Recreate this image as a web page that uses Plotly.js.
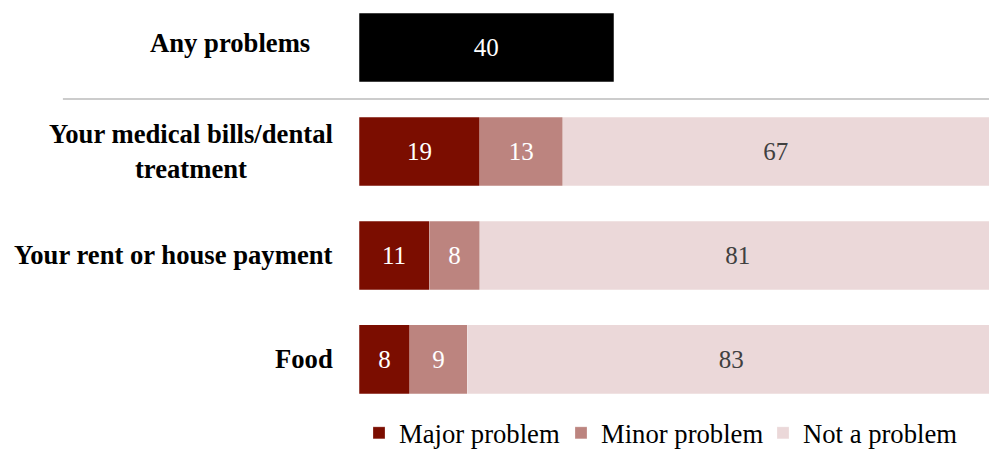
<!DOCTYPE html>
<html><head><meta charset="utf-8">
<script src="https://cdn.plot.ly/plotly-3.0.1.min.js"></script>
<style>body{margin:0;background:#fff}#c{width:989px;height:457px}</style>
</head><body><div id="c"></div>
<script>
const categories = ["Any problems", "Your medical bills/dental treatment", "Your rent or house payment", "Food"];
const labelText = ["Any problems", "Your medical bills/dental<br>treatment", "Your rent or house payment", "Food"];
const anyCategory = ["Any problems"];
const anyValues = [40];
const itemCategories = ["Your medical bills/dental treatment", "Your rent or house payment", "Food"];
const majorValues = [19, 11, 8];
const minorValues = [13, 8, 9];
const notValues = [67, 81, 83];
const seriesNames = ["Major problem", "Minor problem", "Not a problem"];

const FONT = "'Liberation Serif', 'Times New Roman', serif";
const FS = 26.67;
const W = 0.663;
function barTrace(name, cats, vals, color, txtColor, showleg) {
  return {
    type: 'bar', orientation: 'h', name: name, y: cats, x: vals,
    marker: {color: color, line: {color: 'rgba(255,255,255,0.5)', width: 0.5}},
    width: vals.map(() => W),
    text: vals.map(String), textposition: 'inside', insidetextanchor: 'middle',
    textangle: 0, constraintext: 'none',
    textfont: {family: FONT, size: 25, color: txtColor},
    showlegend: showleg, hoverinfo: 'none'
  };
}
const data = [
  barTrace('Any problems', anyCategory, anyValues, '#000000', '#ffffff', false),
  barTrace(seriesNames[0], itemCategories, majorValues, '#7B0D00', '#ffffff', true),
  barTrace(seriesNames[1], itemCategories, minorValues, '#BC847F', '#ffffff', true),
  barTrace(seriesNames[2], itemCategories, notValues, '#EBD8D9', '#404040', true)
];
const annotations = categories.map((c, i) => ({
  xref: 'paper', yref: 'y', x: 0, y: c, xshift: i === 0 ? -47 : -24, yshift: i === 0 ? 5 : 0,
  xanchor: 'right', yanchor: 'middle', align: 'center', showarrow: false,
  text: '<b>' + labelText[i] + '</b>',
  font: {family: FONT, size: FS, color: '#000'}
}));
const layout = {
  width: 989, height: 457,
  margin: {l: 359, r: 0, t: 0, b: 47, autoexpand: false},
  paper_bgcolor: '#fff', plot_bgcolor: '#fff',
  barmode: 'stack',
  font: {family: FONT, size: FS, color: '#000'},
  xaxis: {range: [0, 99], visible: false, fixedrange: true},
  yaxis: {type: 'category', categoryarray: categories, categoryorder: 'array',
          range: [3.486, -0.457], showticklabels: false, showgrid: false,
          zeroline: false, showline: false, ticks: ''},
  shapes: [{type: 'line', xref: 'paper', yref: 'y', x0: -0.47, x1: 1, y0: 0.495, y1: 0.495,
            line: {color: '#BBBBBB', width: 1.3}}],
  annotations: annotations,
  legend: {orientation: 'h', xref: 'paper', x: 0.0, xanchor: 'left',
           yref: 'container', y: 0.0, yanchor: 'bottom',
           font: {family: FONT, size: FS, color: '#000'}, traceorder: 'normal',
           entrywidth: 157, entrywidthmode: 'pixels', itemclick: false},
  showlegend: true
};
Plotly.newPlot('c', data, layout, {displayModeBar: false, staticPlot: true});
</script></body></html>
